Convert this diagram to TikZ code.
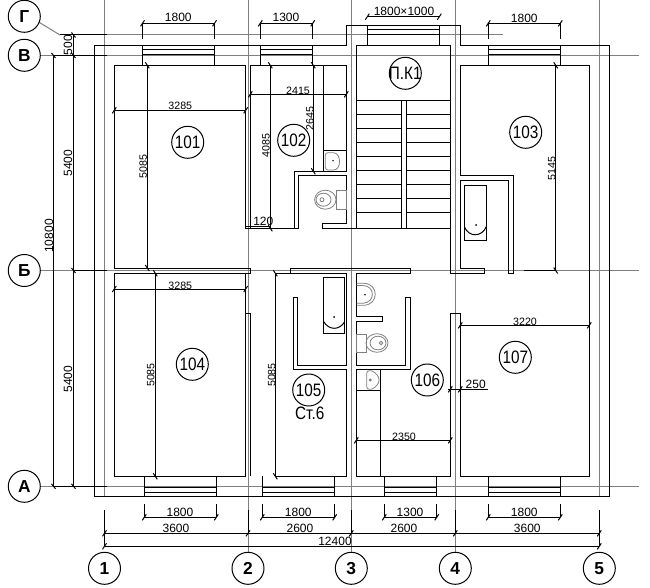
\documentclass[tikz,border=0pt]{standalone}
\usepackage{fontspec}
\setmainfont{Liberation Sans}
\newfontfamily\cadnarrow[FakeStretch=0.85]{Liberation Sans}
\definecolor{axisgray}{RGB}{128, 128, 128}
\newcommand{\tagtext}[1]{\makebox[0pt][c]{#1}}
\tikzset{
  wall/.style={black, line width=0.75pt},
  gridline/.style={axisgray, line width=0.75pt},
  fixture/.style={axisgray, line width=0.6pt},
  axistag/.style={circle, draw=black, line width=0.75pt, fill=white, minimum size=24pt, inner sep=0pt, font=\fontsize{13}{13}\selectfont\bfseries},
  roomtag/.style={circle, draw=black, line width=0.75pt, minimum size=24pt, inner sep=0pt, font=\fontsize{13.5}{13.5}\cadnarrow},
  dimsmall/.style={inner sep=0pt, font=\fontsize{8}{8}\selectfont},
  dimbig/.style={inner sep=0pt, font=\fontsize{9}{9}\selectfont}
}

\begin{document}
\begin{tikzpicture}[x=0.75pt, y=-0.75pt]
  \useasboundingbox (0,0) rectangle (650,588);

  % Grid lines
  \foreach \xpos in {104.5, 599.3} \draw[gridline] (\xpos,0) -- (\xpos,497);
  \foreach \xpos in {248, 351.3, 455.3} \draw[gridline] (\xpos,0) -- (\xpos,552);
  \draw[gridline] (107,35) -- (502.7,35);
  \foreach \ypos in {55.5, 270.5, 486.3} \draw[gridline] (40,\ypos) -- (639,\ypos);
  \draw[gridline] (37,21) -- (60,35);

  % Axis tags
  \node[axistag] (axG) at (24.3,16.3) {Г};
  \node[axistag] (axV) at (24.3,55.3) {В};
  \node[axistag] (axB) at (24.3,270.5) {Б};
  \node[axistag] (axA) at (24.3,486.3) {А};
  \node[axistag] (ax1) at (104.5,568.3) {1};
  \node[axistag] (ax2) at (248,568.3) {2};
  \node[axistag] (ax3) at (351.3,568.3) {3};
  \node[axistag] (ax4) at (455.3,568.3) {4};
  \node[axistag] (ax5) at (599.3,568.3) {5};

  % Outer wall
  \draw[wall] (94.5,45.5) -- (346.3,45.5) -- (346.3,25.3) -- (460.3,25.3) -- (460.3,45.5) -- (609.3,45.5) -- (609.3,496.3) -- (94.5,496.3) -- cycle;

  % Windows
  \foreach \xa/\xb in {142.5/214.5, 260.3/312.7, 488.3/560.3} {
    \draw[wall] (\xa,45.5) -- (\xa,65.3) (\xb,45.5) -- (\xb,65.3);
    \draw[wall] (\xa,49.5) -- (\xb,49.5) (\xa,54.3) -- (\xb,54.3);
  }
  \foreach \xa/\xb in {144.3/216.3, 262.3/334.7, 384.3/436.7, 488.3/560.3} {
    \draw[wall] (\xa,476.3) -- (\xa,496.3) (\xb,476.3) -- (\xb,496.3);
    \draw[wall] (\xa,487.3) -- (\xb,487.3) (\xa,492) -- (\xb,492);
  }
  \draw[wall] (367.3,25.3) -- (367.3,45.5) (439.3,25.3) -- (439.3,45.5);
  \draw[wall] (367.3,30) -- (439.3,30) (367.3,34.6) -- (439.3,34.6);

  % Rooms 101 and 104
  \draw[wall] (245.7,228.3) -- (245.7,65.3) -- (114.3,65.3) -- (114.3,268) -- (250.3,268) -- (250.3,273.3) -- (114.3,273.3) -- (114.3,476.3) -- (245.7,476.3) -- (245.7,313.3) -- (250.3,313.3) -- (250.3,476.3);
  \draw[wall] (245.7,313.3) -- (245.7,273.3);
  \draw[wall] (245.7,228.3) rectangle (250.3,226.3);

  % Room 102 and its toilet
  \draw[wall] (250.3,228.3) -- (250.3,65.3) -- (346.3,65.3) -- (346.3,171.3) -- (294.3,171.3) -- (294.3,228.3) -- cycle;
  \draw[wall] (298.7,228.3) -- (298.7,175.7) -- (346.3,175.7) -- (346.3,223.5) -- (322.3,223.5) -- (322.3,228.3) -- (450.3,228.3);
  \draw[wall] (294.3,228.3) -- (298.7,228.3);
  \draw[wall] (323.3,65.3) -- (323.3,171.3) (323.3,150.3) -- (346.3,150.3);

  % Stairs
  \draw[wall] (356.3,228.3) -- (356.3,45.5) -- (450.3,45.5) -- (450.3,273.3) -- (484.3,273.3) -- (484.3,268) -- (460.3,268) -- (460.3,180.3) -- (508.3,180.3) -- (508.3,273.3) -- (513.7,273.3) -- (513.7,175.3) -- (460.3,175.3) -- (460.3,65.3) -- (589.3,65.3) -- (589.3,476.3) -- (460.3,476.3) -- (460.3,313.3) -- (450.3,313.3) -- (450.3,476.3) -- (356.3,476.3) -- (356.3,369.7) -- (410.7,369.7) -- (410.7,297.3) -- (405.7,297.3) -- (405.7,365.3) -- (356.3,365.3) -- (356.3,321.3) -- (382.3,321.3) -- (382.3,316.3) -- (356.3,316.3) -- (356.3,273.3) -- (410.3,273.3) -- (410.3,268.3) -- (290.3,268.3) -- (290.3,273.3);
  \draw[wall] (401.3,100.3) -- (401.3,228.3) (406.7,100.3) -- (406.7,228.3);
  \draw[wall] (356.3,100.3) -- (450.3,100.3);
  \foreach \ypos in {114.3, 128.3, ..., 212.3} {
    \draw[wall] (356.3,\ypos) -- (401.3,\ypos) (406.7,\ypos) -- (450.3,\ypos);
  }

  % Room 105 and bath
  \draw[wall] (275.3,273.3) -- (346.7,273.3) -- (346.7,365.3) -- (297.3,365.3) -- (297.3,297.3) -- (293.3,297.3) -- (293.3,369.5) -- (346.7,369.5) -- (346.7,476.3) -- (275.3,476.3) -- cycle;
  \draw[wall] (323.7,277.3) rectangle (344.7,333.3);
  \draw[wall] (323.7,321.7) .. controls (329,330.5) and (339.5,330.5) .. (344.7,321.7);
  \fill (334,317) circle (1);

  % Bath of room 103
  \draw[wall] (464.3,185.3) rectangle (486.3,240.3);
  \draw[wall] (464.3,226.7) .. controls (469,237.5) and (481.5,237.5) .. (486.3,226.7);
  \fill (476,225) circle (1);

  % Room 106 cupboard
  \draw[wall] (380.3,369.7) -- (380.3,476.3) (356.3,390.3) -- (380.3,390.3);

  % Sinks and toilets
  \draw[fixture, rounded corners=2] (325.3,152.7) -- (331,152.7) .. controls (341.5,153) and (341.5,170) .. (331,170) -- (325.3,170) -- cycle;
  \fill (333,160.7) circle (0.8);
  \draw[fixture] (336.3,190) rectangle (346.3,209);
  \draw[fixture] (325.3,199.7) ellipse (10.7 and 9.5);
  \draw[fixture] (323.5,199.7) ellipse (7.5 and 6.5);
  \draw[fixture] (322,199.7) circle (2);

  \draw[fixture] (356.7,283.3) -- (364,283.3) .. controls (379,284) and (379,304.5) .. (364,305.3) -- (356.7,305.3);
  \draw[fixture] (356.7,285.5) -- (363,285.5) .. controls (375.5,286) and (375.5,302.5) .. (363,303.3) -- (356.7,303.3);
  \fill (365,294.7) circle (0.9);
  \draw[fixture] (356.7,334.3) rectangle (366.7,352.3);
  \draw[fixture] (377,343) ellipse (11 and 9.3);
  \draw[fixture] (378,343) ellipse (8 and 6.8);
  \draw[fixture] (381,343) circle (1.8);

  \draw[fixture, rounded corners=2] (366.7,370.7) -- (373,370.7) -- (379,377) -- (379,383) -- (373,389.3) -- (366.7,389.3) -- cycle;
  \draw[fixture] (370.3,380) circle (1);

  % Left dimensions
  \draw[wall] (60,35) -- (107,35);
  \draw[wall] (53.5,55.5) -- (107,55.5) (73.5,270.5) -- (107,270.5) (53.5,486.3) -- (107,486.3);
  \draw[wall] (53.5,55.5) -- (53.5,486.3) (73.5,35) -- (73.5,486.3);
  \foreach \ypos in {55.5, 486.3} \draw[wall] (51.5,\ypos-2.5) -- (55.5,\ypos+2.5);
  \foreach \ypos in {35, 55.5, 270.5, 486.3} \draw[wall] (71.5,\ypos-2.5) -- (75.5,\ypos+2.5);
  \node[dimbig, rotate=90] (dimall) at (49,236) {10800};
  \node[dimbig, rotate=90] (dimtop) at (68,45) {500};
  \node[dimbig, rotate=90] (dimb) at (68,163) {5400};
  \node[dimbig, rotate=90] (dima) at (68,379) {5400};

  % Top dimensions
  \foreach \xa/\xb/\ypos in {142.5/214.5/23.3, 260.3/312.7/23.3, 488.3/560.3/23.3} {
    \draw[wall] (\xa,\ypos) -- (\xb,\ypos) (\xa,\ypos) -- (\xa,39.5) (\xb,\ypos) -- (\xb,39.5);
    \draw[wall] (\xa-2,\ypos+3) -- (\xa+2,\ypos-3) (\xb-2,\ypos+3) -- (\xb+2,\ypos-3);
  }
  \draw[wall] (367.3,16.7) -- (439.3,16.7);
  \draw[wall] (365.3,19.7) -- (369.3,13.7) (437.3,19.7) -- (441.3,13.7);
  \node[dimbig] (topa) at (178.3,17.7) {1800};
  \node[dimbig] (topb) at (286,17.7) {1300};
  \node[dimbig] (topc) at (404,11.7) {1800×1000};
  \node[dimbig] (topd) at (524.3,18.3) {1800};

  % Bottom dimensions
  \foreach \xa/\xb in {144.3/216.3, 262.3/334.7, 384.3/436.7, 488.3/560.3} {
    \draw[wall] (\xa,504) -- (\xa,517.3) (\xb,504) -- (\xb,517.3) (\xa,517.3) -- (\xb,517.3);
    \draw[wall] (\xa-2,520.3) -- (\xa+2,514.3) (\xb-2,520.3) -- (\xb+2,514.3);
  }
  \node[dimbig] (bota) at (180,512.7) {1800};
  \node[dimbig] (botb) at (298.3,512.7) {1800};
  \node[dimbig] (botc) at (410,512.7) {1300};
  \node[dimbig] (botd) at (524.3,512.7) {1800};
  \draw[wall] (104.5,533.3) -- (599.3,533.3) (104.5,546.3) -- (599.3,546.3);
  \draw[wall] (104.5,510) -- (104.5,546.3) (599.3,510) -- (599.3,546.3);
  \foreach \xpos in {248, 351.3, 455.3} \draw[wall] (\xpos,510) -- (\xpos,533.3);
  \foreach \xpos in {104.5, 248, 351.3, 455.3, 599.3} \draw[wall] (\xpos-2,536.3) -- (\xpos+2,530.3);
  \foreach \xpos in {104.5, 599.3} \draw[wall] (\xpos-2,549.3) -- (\xpos+2,543.3);
  \node[dimbig] (axa) at (176,528.7) {3600};
  \node[dimbig] (axb) at (300,528.7) {2600};
  \node[dimbig] (axc) at (404,528.7) {2600};
  \node[dimbig] (axd) at (527.3,528.7) {3600};
  \node[dimbig] (axall) at (335,541.7) {12400};

  % Room dimensions
  \foreach \xa/\xb/\ypos in {114.3/245.7/110.3, 114.3/245.7/289, 250.3/346.3/94.3, 460.3/589.3/325.3, 356.3/450.3/440.3} {
    \draw[wall] (\xa,\ypos) -- (\xb,\ypos);
    \draw[wall] (\xa-2,\ypos+3) -- (\xa+2,\ypos-3) (\xb-2,\ypos+3) -- (\xb+2,\ypos-3);
  }
  \foreach \xpos/\ya/\yb in {147.3/65.3/268, 155.3/273.3/476.3, 275.3/273.3/476.3, 270.3/65.3/228.3, 313.3/65.3/171.3, 555.7/65.3/270.5} {
    \draw[wall] (\xpos,\ya) -- (\xpos,\yb);
    \draw[wall] (\xpos-2,\ya-3) -- (\xpos+2,\ya+3) (\xpos-2,\yb-3) -- (\xpos+2,\yb+3);
  }
  \draw[wall] (524,270.5) -- (555.7,270.5);
  \draw[wall] (245.7,226.7) -- (271,226.7);
  \draw[wall] (448.3,389.3) -- (487.7,389.3);
  \draw[wall] (448.3,392.3) -- (452.3,386.3) (458.3,392.3) -- (462.3,386.3);
  \node[dimsmall] (w101) at (180.3,106.3) {3285};
  \node[dimsmall] (w104) at (180.3,285.7) {3285};
  \node[dimsmall] (w102) at (298,90.7) {2415};
  \node[dimsmall] (w107) at (525,321.7) {3220};
  \node[dimsmall] (w106) at (404,436.7) {2350};
  \node[dimbig] (w120) at (263.3,221.3) {120};
  \node[dimbig] (w250) at (475.7,384.7) {250};
  \node[dimsmall, rotate=90] (h101) at (143.3,166.7) {5085};
  \node[dimsmall, rotate=90] (h104) at (150.7,375) {5085};
  \node[dimsmall, rotate=90] (h105) at (271.7,375) {5085};
  \node[dimsmall, rotate=90] (h102) at (266,145.7) {4085};
  \node[dimsmall, rotate=90] (h102b) at (310,118.3) {2645};
  \node[dimsmall, rotate=90] (h103) at (551.7,168.3) {5145};

  % Room tags
  \node[roomtag] (r101) at (187.7,142.3) {\tagtext{101}};
  \node[roomtag] (r102) at (293.7,140.3) {\tagtext{102}};
  \node[roomtag] (rstair) at (405.3,73.3) {\tagtext{П.К1}};
  \node[roomtag] (r103) at (525.7,132.3) {\tagtext{103}};
  \node[roomtag] (r104) at (192.3,364.3) {\tagtext{104}};
  \node[roomtag] (r105) at (308.7,390) {\tagtext{105}};
  \node[roomtag] (r106) at (427.3,380) {\tagtext{106}};
  \node[roomtag] (r107) at (515.3,357.3) {\tagtext{107}};
  \node[inner sep=0pt, font=\fontsize{13.5}{13.5}\cadnarrow] (st6) at (309.7,413.3) {Ст.6};
\end{tikzpicture}
\end{document}
